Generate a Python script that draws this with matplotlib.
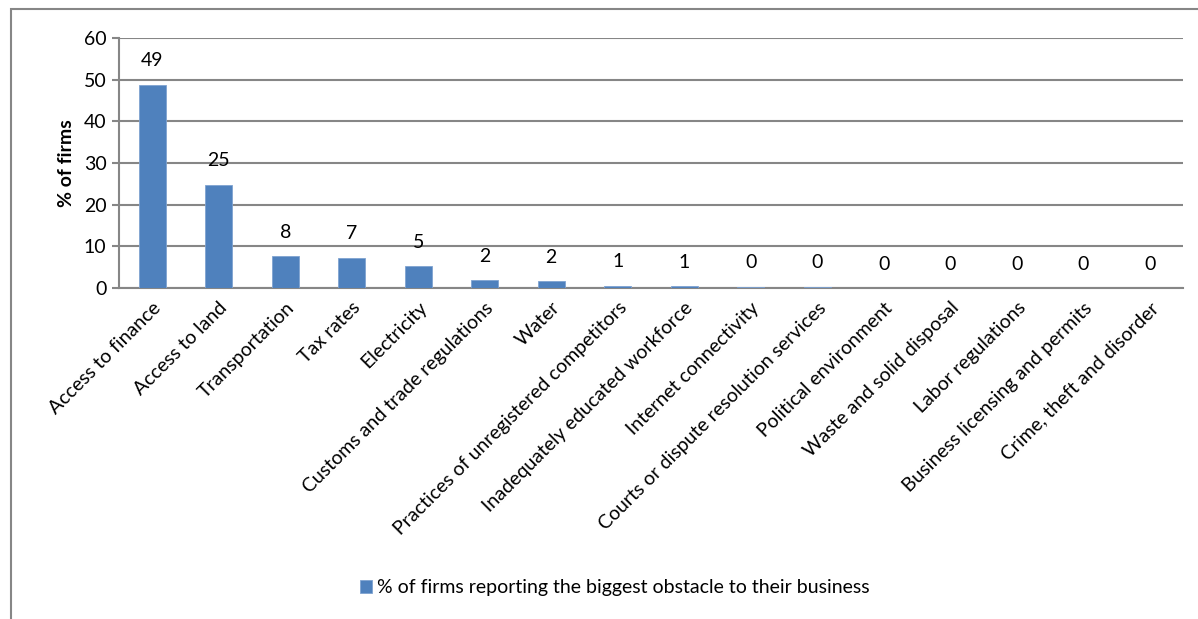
import matplotlib.pyplot as plt
from matplotlib.patches import Rectangle

plt.rcParams['font.family'] = ['Lato', 'DejaVu Sans']

obstacles = ['Access to finance', 'Access to land', 'Transportation', 'Tax rates',
             'Electricity', 'Customs and trade regulations', 'Water',
             'Practices of unregistered competitors', 'Inadequately educated workforce',
             'Internet connectivity', 'Courts or dispute resolution services',
             'Political environment', 'Waste and solid disposal', 'Labor regulations',
             'Business licensing and permits', 'Crime, theft and disorder']
share = [48.8, 24.8, 7.6, 7.3, 5.3, 1.9, 1.7, 0.6, 0.5, 0.3, 0.3, 0, 0, 0, 0, 0]
series_name = '% of firms reporting the biggest obstacle to their business'

bar_color = '#4F81BD'
grey = '#868686'
fs = 14

fig = plt.figure(figsize=(11.98, 6.19), dpi=100)
ax = fig.add_axes([119 / 1198, 1 - 288 / 619, (1183 - 119) / 1198, (288 - 38) / 619])

# chart border, runs off the right and bottom edges
fig.patches.append(Rectangle((11 / 1198, -0.05), 1.1, 1 - 9 / 619 + 0.05,
                             transform=fig.transFigure, fill=False,
                             edgecolor=grey, lw=1.5, zorder=0))

x = range(len(obstacles))
bars = ax.bar(x, share, width=0.4, color=bar_color, edgecolor='#7FA3D1', lw=0.6,
              label=series_name, zorder=3)
for xi, v in zip(x, share):
    # round half up, like the spreadsheet does
    ax.annotate('%d' % int(v + 0.5), (xi, v), xytext=(0, 11), textcoords='offset points',
                ha='center', va='bottom', fontsize=fs)

ax.set_xlim(-0.5, len(obstacles) - 0.5)
ax.set_ylim(0, 60)
ax.set_yticks(range(0, 61, 10))
ax.yaxis.grid(True, color=grey, lw=1.5)
ax.set_axisbelow(True)
for s in ['top', 'right']:
    ax.spines[s].set_visible(False)
for s in ['left', 'bottom']:
    ax.spines[s].set_color(grey)
    ax.spines[s].set_linewidth(1.5)
ax.tick_params(axis='y', length=5, width=1.5, color=grey, labelsize=fs, pad=4)
ax.tick_params(axis='x', length=0, pad=8)
ax.set_xticks(list(x))
ax.set_xticklabels(obstacles, rotation=45, ha='right', rotation_mode='anchor', fontsize=fs)
ax.set_ylabel('% of firms', fontsize=fs, fontweight='bold', labelpad=6)

fig.legend(handles=[bars], labels=[series_name], loc='center',
           bbox_to_anchor=(615 / 1198, 1 - 588 / 619), frameon=False,
           fontsize=fs, handlelength=0.6, handleheight=0.6, handletextpad=0.3)

fig.savefig('out.png', dpi=100)
